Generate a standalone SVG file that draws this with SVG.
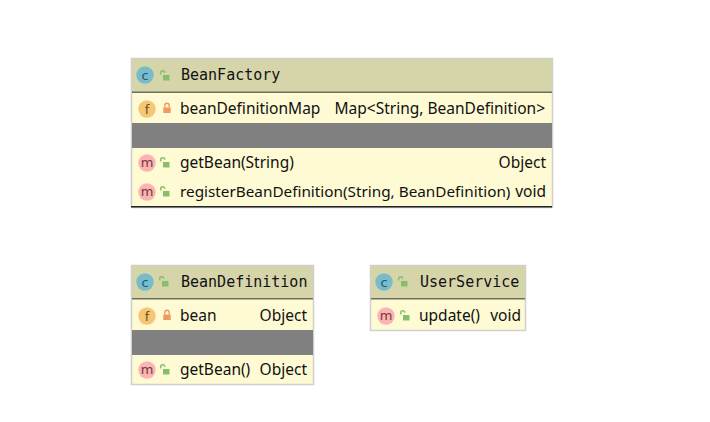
<svg xmlns="http://www.w3.org/2000/svg" width="710" height="422" viewBox="0 0 710 422">
<style>
.box{fill:#fefad4;stroke:#cfcfcf;stroke-width:1.5}
.head{fill:#d6d4a9}
.sep{fill:#6f6e5c}
.gray{fill:#808080}
.hd{font:15px "DejaVu Sans Mono","Liberation Mono",monospace;fill:#111}
.t{font:15.5px "Noto Sans","Open Sans",sans-serif;fill:#111}
.n{font-size:15.3px}
.e{text-anchor:end}
.ic{font:13px "DejaVu Sans",sans-serif;text-anchor:middle}
</style>
<defs>
<g id="ic-c"><circle r="8.700" fill="#76bccd"/><text class="ic" y="4.500" fill="#2d5560">c</text></g>
<g id="ic-f"><circle r="8.700" fill="#f6c675"/><text class="ic" y="4.500" fill="#6b5020">f</text></g>
<g id="ic-m"><circle r="8.700" fill="#fcb3b1"/><text class="ic" y="4" fill="#6b3c3a">m</text></g>
<g id="open"><path d="M-4.300 -1.500V-3.200a2 2 0 0 1 4 0" fill="none" stroke="#86bf6c" stroke-width="1.500"/><rect x="-2" y="-1" width="6.500" height="5.500" fill="#86bf6c"/></g>
<g id="lock"><path d="M-2.200 -0.500V-2.500a2.200 2.200 0 0 1 4.400 0V-0.500" fill="none" stroke="#f09a63" stroke-width="1.400"/><rect x="-3.700" y="-0.500" width="7.400" height="5.500" fill="#f09a63"/></g>
</defs>
<rect width="710" height="422" fill="#fff"/>
<g id="connectors"></g>
<g id="BeanFactory">
<rect class="box" x="131.500" y="58.500" width="421" height="149"/>
<rect class="head" x="132" y="59" width="420" height="33"/>
<rect class="sep" x="132" y="91.500" width="420" height="1.500"/>
<rect class="gray" x="132" y="123" width="420" height="25"/>
<rect x="131" y="206" width="421" height="1.500" fill="#222"/>
<use href="#ic-c" x="145" y="75"/><use href="#open" x="165" y="76"/>
<text class="hd" x="181" y="80">BeanFactory</text>
<use href="#ic-f" x="147" y="109"/><use href="#lock" x="167" y="108"/>
<text class="t" x="180" y="114">beanDefinitionMap</text>
<text class="t e" x="545" y="114">Map&lt;String, BeanDefinition&gt;</text>
<use href="#ic-m" x="147" y="163"/><use href="#open" x="165" y="163"/>
<text class="t" x="180" y="168">getBean(String)</text>
<text class="t e" x="546" y="168">Object</text>
<use href="#ic-m" x="147" y="192"/><use href="#open" x="165" y="192"/>
<text class="t n" x="180" y="197">registerBeanDefinition(String, BeanDefinition)</text>
<text class="t e" x="546" y="197">void</text>
</g>
<g id="BeanDefinition">
<rect class="box" x="131.500" y="265.500" width="182" height="119"/>
<rect class="head" x="132" y="266" width="181" height="32.500"/>
<rect class="sep" x="132" y="298" width="181" height="1.500"/>
<rect class="gray" x="132" y="330" width="181" height="25"/>
<use href="#ic-c" x="145" y="282"/><use href="#open" x="164" y="282"/>
<text class="hd" x="181" y="287">BeanDefinition</text>
<use href="#ic-f" x="147" y="316"/><use href="#lock" x="167" y="315"/>
<text class="t" x="180" y="321">bean</text>
<text class="t e" x="307" y="321">Object</text>
<use href="#ic-m" x="147" y="370"/><use href="#open" x="165" y="370"/>
<text class="t" x="180" y="375">getBean()</text>
<text class="t e" x="307" y="375">Object</text>
</g>
<g id="UserService">
<rect class="box" x="370.500" y="265.500" width="155" height="65"/>
<rect class="head" x="371" y="266" width="154" height="32.500"/>
<rect class="sep" x="371" y="298" width="154" height="1.500"/>
<use href="#ic-c" x="384" y="282"/><use href="#open" x="403" y="282"/>
<text class="hd" x="420" y="287">UserService</text>
<use href="#ic-m" x="386" y="316"/><use href="#open" x="405" y="316"/>
<text class="t" x="419" y="321">update()</text>
<text class="t e" x="521" y="321">void</text>
</g>
</svg>
